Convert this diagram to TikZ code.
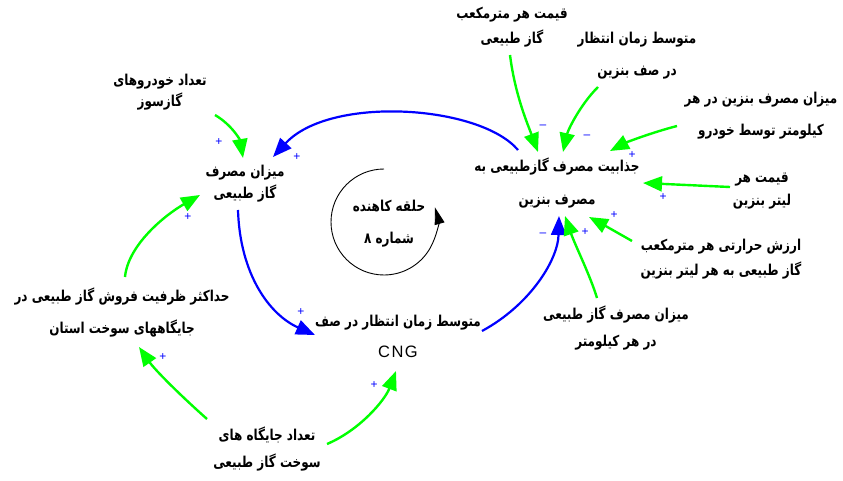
\documentclass[tikz,border=0pt]{standalone}
\usepackage{fontspec}
\usetikzlibrary{arrows.meta}
\TeXXeTstate=1
\newfontfamily\farsi[Script=Arabic,FakeStretch=0.8]{DejaVu Sans}
\newfontfamily\latinf{Liberation Sans}
\newcommand\rl[1]{\beginR #1\endR}
\definecolor{cldgreen}{RGB}{0,255,0}
\definecolor{cldblue}{RGB}{0,0,255}
\tikzset{
  var/.style={font={\farsi\bfseries\fontsize{15}{#1}\selectfont}, align=center, inner sep=0pt},
  sgn/.style={text=cldblue, font={\latinf\fontsize{12}{13}\selectfont}, inner sep=0pt},
  gline/.style={draw=cldgreen, line width=2.4pt, -{Triangle[length=19pt,width=15pt]}},
  bline/.style={draw=cldblue, line width=2.2pt, -{Triangle[length=19pt,width=15pt]}},
  loopline/.style={draw=black, line width=0.9pt, -{Triangle[length=17pt,width=10pt]}}
}
\begin{document}
\begin{tikzpicture}[x=1pt,y=-1pt]
\useasboundingbox (0,0) rectangle (843,481);
% variables
\node[var=25pt] (gasprice) at (512,27.5) {\rl{قیمت هر مترمکعب}\\\rl{گاز طبیعی}};
\node[var=32pt] (waitpetrol) at (637,56) {\rl{متوسط زمان انتظار}\\\rl{در صف بنزین}};
\node[var=32pt] (petrolcons) at (761,116) {\rl{میزان مصرف بنزین در هر}\\\rl{کیلومتر توسط خودرو}};
\node[var=33pt] (attr) at (557,183.5) {\rl{جذابیت مصرف گازطبیعی به}\\\rl{مصرف بنزین}};
\node[var=23pt] (petrolprice) at (762,191.5) {\rl{قیمت هر}\\\rl{لیتر بنزین}};
\node[var=25pt] (heatval) at (721,259.5) {\rl{ارزش حرارتی هر مترمکعب}\\\rl{گاز طبیعی به هر لیتر بنزین}};
\node[var=27pt] (gascons) at (616,328.5) {\rl{میزان مصرف گاز طبیعی}\\\rl{در هر کیلومتر}};
\node[var=21pt] (gascars) at (160,92.5) {\rl{تعداد خودروهای}\\\rl{گازسوز}};
\node[var=22pt] (gasuse) at (245,184) {\rl{میزان مصرف}\\\rl{گاز طبیعی}};
\node[var=32pt] (looplabel) at (389,224) {\rl{حلقه کاهنده}\\\rl{شماره ۸}};
\node[var=32pt] (maxcap) at (122,313) {\rl{حداکثر ظرفیت فروش گاز طبیعی در}\\\rl{جایگاههای سوخت استان}};
\node[var=31pt] (waitcng) at (398,336.5) {\rl{متوسط زمان انتظار در صف}\\{\latinf\mdseries\fontsize{16.5}{31}\selectfont C\kern1.5pt N\kern1.5pt G}};
\node[var=27pt] (stations) at (267,449.5) {\rl{تعداد جایگاه های}\\\rl{سوخت گاز طبیعی}};
% loop
\draw[loopline] (384,169) arc (270:-16:53);
% blue links
\draw[bline] ([shift={(-39,-33.5)}]attr.center) .. controls (480,105) and (330,95) .. ([shift={(28,-27)}]gasuse.center);
\draw[bline] ([shift={(-7,26)}]gasuse.center) .. controls (240,275) and (270,315) .. ([shift={(-83,-1.5)}]waitcng.center);
\draw[bline] ([shift={(84,-5.5)}]waitcng.center) .. controls (530,305) and (558,260) .. ([shift={(2,32.5)}]attr.center);
% green links
\draw[gline] ([shift={(55,22.5)}]gascars.center) .. controls (232,125) and (240,140) .. ([shift={(-2,-26)}]gasuse.center);
\draw[gline] ([shift={(3,-36)}]maxcap.center) .. controls (128,245) and (165,215) .. ([shift={(-45,11)}]gasuse.center);
\draw[gline] ([shift={(-60,-30.5)}]stations.center) .. controls (180,395) and (155,370) .. ([shift={(17,34)}]maxcap.center);
\draw[gline] ([shift={(60,-5.5)}]stations.center) .. controls (360,430) and (385,400) .. ([shift={(-2,34.5)}]waitcng.center);
\draw[gline] ([shift={(-2,27.5)}]gasprice.center) .. controls (515,95) and (528,125) .. ([shift={(-19,-31.5)}]attr.center);
\draw[gline] ([shift={(-39,31)}]waitpetrol.center) .. controls (580,105) and (568,130) .. ([shift={(6,-31.5)}]attr.center);
\draw[gline] ([shift={(-84,10)}]petrolcons.center) .. controls (650,133) and (625,143) .. ([shift={(53,-32.5)}]attr.center);
\draw[gline] ([shift={(-32,-4.5)}]petrolprice.center) -- ([shift={(86,-0.5)}]attr.center);
\draw[gline] ([shift={(-19,-30.5)}]gascons.center) .. controls (590,275) and (575,245) .. ([shift={(8,32.5)}]attr.center);
\draw[gline] ([shift={(-89,-18.5)}]heatval.center) .. controls (618,233) and (602,224) .. ([shift={(32,33.5)}]attr.center);
% polarity signs
\node[sgn] (s1) at (297,157) {+};
\node[sgn] (s2) at (301,312) {+};
\node[sgn] (s3) at (543,235) {–};
\node[sgn] (s4) at (219,142) {+};
\node[sgn] (s5) at (188,217) {+};
\node[sgn] (s6) at (163,357) {+};
\node[sgn] (s7) at (374,385) {+};
\node[sgn] (s8) at (543,127) {–};
\node[sgn] (s9) at (587,137) {–};
\node[sgn] (s10) at (632,155) {+};
\node[sgn] (s11) at (663,197) {+};
\node[sgn] (s12) at (585,232) {+};
\node[sgn] (s13) at (614,215) {+};
\end{tikzpicture}
\end{document}
